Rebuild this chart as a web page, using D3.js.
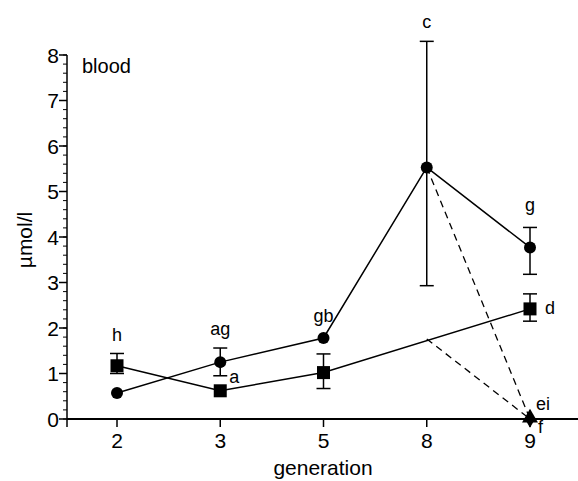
<!DOCTYPE html>
<html>
<head>
<meta charset="utf-8">
<script src="https://cdn.jsdelivr.net/npm/d3@7"></script>
<style>
  body { margin: 0; background: #fff; }
  text { font-family: "Liberation Sans", Arial, sans-serif; fill: #000; }
</style>
</head>
<body>
<div id="chart"></div>
<script>
// values
var generations = ["2", "3", "5", "8", "9"];

var circleMean = [0.57, 1.25, 1.78, 5.53, 3.77];
var circleLow  = [null, 0.95, null, 2.93, 3.18];
var circleHigh = [null, 1.56, null, 8.3, 4.21];

var squareMean = [1.17, 0.62, 1.02, null, 2.42];
var squareLow  = [1.0, null, 0.67, null, 2.15];
var squareHigh = [1.44, null, 1.43, null, 2.75];

// series that fall to zero at generation 9 (dashed)
var dashFrom = [["8", 5.53], ["8", 1.76]];
var dashTo = ["9", 0];

var letterGen  = ["2", "3", "3", "5", "8", "9", "9", "9", "9"];
var letterVal  = [1.44, 1.56, 0.62, 1.78, 8.3, 4.21, 2.42, 0, 0];
var letterText = ["h", "ag", "a", "gb", "c", "g", "d", "ei", "f"];

var yTicks = [0, 1, 2, 3, 4, 5, 6, 7, 8];

var W = 578, H = 481;
var svg = d3.select("#chart").append("svg")
    .attr("width", W).attr("height", H);

var x = d3.scalePoint().domain(generations).range([117, 530]);
var y = d3.scaleLinear().domain([0, 8]).range([419, 55]);
var x0 = 67;

// y axis
var yAxis = svg.append("g").attr("transform", "translate(" + x0 + ",0)");
yAxis.append("line").attr("y1", y(8)).attr("y2", y(0))
    .attr("stroke", "#000").attr("stroke-width", 1.5);
yAxis.selectAll(".minor").data(d3.range(0, 8.001, 0.2))
  .enter().append("line")
    .attr("x1", -4).attr("x2", 0)
    .attr("y1", function(d){ return y(d); })
    .attr("y2", function(d){ return y(d); })
    .attr("stroke", "#000").attr("stroke-width", 1);
yAxis.selectAll(".major").data(yTicks)
  .enter().append("line")
    .attr("x1", -8).attr("x2", 0)
    .attr("y1", function(d){ return y(d); })
    .attr("y2", function(d){ return y(d); })
    .attr("stroke", "#000").attr("stroke-width", 1.5);
yAxis.selectAll(".lab").data(yTicks)
  .enter().append("text")
    .attr("x", -8)
    .attr("y", function(d){ return y(d) + 7.5; })
    .attr("text-anchor", "end")
    .style("font-size", "21px")
    .text(function(d){ return d; });

// x axis
var xAxis = svg.append("g").attr("transform", "translate(0," + y(0) + ")");
xAxis.append("line").attr("x1", x0).attr("x2", W)
    .attr("stroke", "#000").attr("stroke-width", 2);
xAxis.append("line").attr("x1", x0).attr("x2", x0).attr("y1", 0).attr("y2", 8)
    .attr("stroke", "#000").attr("stroke-width", 1.5);
xAxis.selectAll(".xt").data(generations)
  .enter().append("line")
    .attr("x1", function(d){ return x(d); })
    .attr("x2", function(d){ return x(d); })
    .attr("y1", 0).attr("y2", 8)
    .attr("stroke", "#000").attr("stroke-width", 1.5);
xAxis.selectAll(".xl").data(generations)
  .enter().append("text")
    .attr("x", function(d){ return x(d); })
    .attr("y", 29)
    .attr("text-anchor", "middle")
    .style("font-size", "21px")
    .text(function(d){ return d; });

svg.append("text").attr("x", 323).attr("y", 475)
    .attr("text-anchor", "middle").style("font-size", "21px").text("generation");
svg.append("text")
    .attr("transform", "translate(32,240) rotate(-90)")
    .attr("text-anchor", "middle").style("font-size", "21px").text("µmol/l");
svg.append("text").attr("x", 82).attr("y", 73)
    .style("font-size", "20px").text("blood");

function toPts(means, lows, highs) {
  return generations.map(function(g, i){
    return { g: g, v: means[i], lo: lows[i], hi: highs[i] };
  }).filter(function(d){ return d.v != null; });
}
var circles = toPts(circleMean, circleLow, circleHigh);
var squares = toPts(squareMean, squareLow, squareHigh);

var line = d3.line()
    .x(function(d){ return x(d.g); })
    .y(function(d){ return y(d.v); });

// dashed lines
dashFrom.forEach(function(p){
  svg.append("line")
    .attr("x1", x(p[0])).attr("y1", y(p[1]))
    .attr("x2", x(dashTo[0])).attr("y2", y(dashTo[1]))
    .attr("stroke", "#000").attr("stroke-width", 1.3)
    .attr("stroke-dasharray", "7,5");
});

[circles, squares].forEach(function(s){
  svg.append("path").attr("d", line(s))
    .attr("fill", "none").attr("stroke", "#000").attr("stroke-width", 1.5);
  var eb = svg.append("g").selectAll("g")
    .data(s.filter(function(d){ return d.lo != null; }))
    .enter().append("g");
  eb.append("line")
    .attr("x1", function(d){ return x(d.g); }).attr("x2", function(d){ return x(d.g); })
    .attr("y1", function(d){ return y(d.lo); }).attr("y2", function(d){ return y(d.hi); })
    .attr("stroke", "#000").attr("stroke-width", 1.5);
  ["lo", "hi"].forEach(function(k){
    eb.append("line")
      .attr("x1", function(d){ return x(d.g) - 7; }).attr("x2", function(d){ return x(d.g) + 7; })
      .attr("y1", function(d){ return y(d[k]); }).attr("y2", function(d){ return y(d[k]); })
      .attr("stroke", "#000").attr("stroke-width", 1.5);
  });
});

svg.append("g").selectAll("circle").data(circles)
  .enter().append("circle")
    .attr("cx", function(d){ return x(d.g); })
    .attr("cy", function(d){ return y(d.v); })
    .attr("r", 6).attr("fill", "#000");
svg.append("g").selectAll("rect").data(squares)
  .enter().append("rect")
    .attr("x", function(d){ return x(d.g) - 6.5; })
    .attr("y", function(d){ return y(d.v) - 6.5; })
    .attr("width", 13).attr("height", 13).attr("fill", "#000");

// markers at zero
svg.append("path")
    .attr("d", d3.symbol(d3.symbolTriangle, 110)())
    .attr("transform", "translate(" + x(dashTo[0]) + "," + (y(dashTo[1]) - 1) + ")")
    .attr("fill", "#000");
svg.append("path")
    .attr("d", d3.symbol(d3.symbolDiamond, 70)())
    .attr("transform", "translate(" + x(dashTo[0]) + "," + (y(dashTo[1]) + 1) + ")")
    .attr("fill", "#000");

// significance letters
var dx = [0, 0, 9, 0, 0, 0, 15, 6, 8];
var dy = [-12, -13, -8, -16, -13, -16, 5, -9, 14];
svg.append("g").selectAll("text").data(letterText)
  .enter().append("text")
    .attr("x", function(d, i){ return x(letterGen[i]) + dx[i]; })
    .attr("y", function(d, i){ return y(letterVal[i]) + dy[i]; })
    .attr("text-anchor", function(d, i){ return dx[i] ? "start" : "middle"; })
    .style("font-size", "18px")
    .text(function(d){ return d; });
</script>
</body>
</html>
